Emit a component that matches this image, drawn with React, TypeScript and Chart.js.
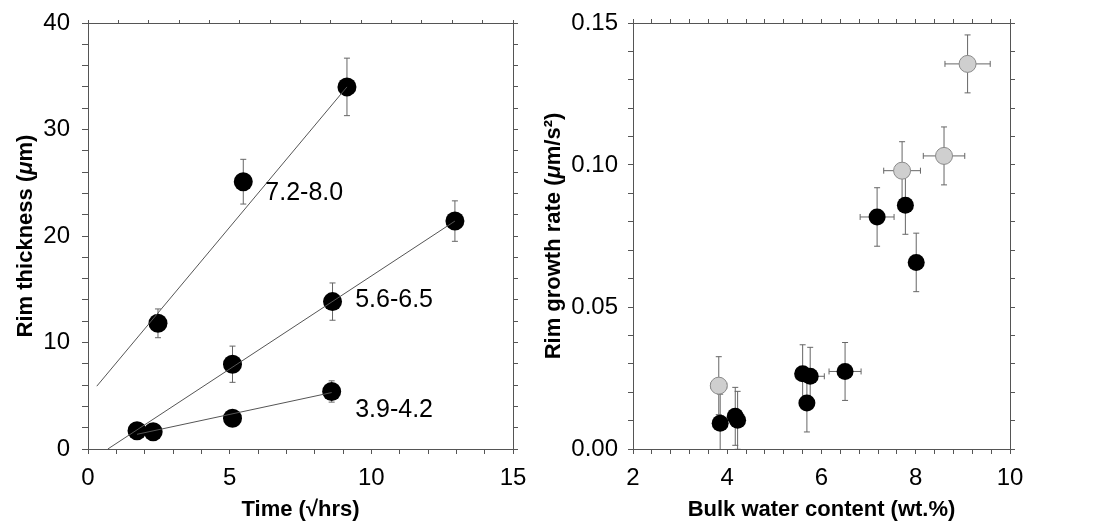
import React, { useEffect, useRef } from 'react';
import { Chart, registerables } from 'chart.js';

Chart.register(...registerables);

const FONT = "'Liberation Sans', Arial, Helvetica, sans-serif";

// ---------- Left panel: rim thickness vs time ----------
const timeA = [2.47, 5.48, 9.14];
const rimA = [11.8, 25.1, 34.0];
const errA = [1.35, 2.1, 2.7];

const timeB = [1.73, 5.1, 8.63, 12.95];
const rimB = [1.72, 7.96, 13.84, 21.4];
const errB = [0, 1.7, 1.75, 1.9];

const timeC = [2.3, 5.1, 8.6];
const rimC = [1.62, 2.88, 5.4];
const errC = [0, 0, 1.0];

const fitAx = [0.31, 9.14];
const fitAy = [5.9, 34.0];
const fitBx = [0.7, 12.95];
const fitBy = [0, 21.4];
const fitCx = [1.73, 8.6];
const fitCy = [1.38, 5.3];

const seriesLabels = ['7.2-8.0', '5.6-6.5', '3.9-4.2'];
const seriesLabelX = [6.26, 9.43, 9.43];
const seriesLabelY = [24.0, 14.0, 3.67];

// ---------- Right panel: rim growth rate vs bulk water ----------
const waterGray = [3.82, 7.71, 8.6, 9.1];
const rateGray = [0.0223, 0.098, 0.1032, 0.1356];
const rateErrGray = [0.0102, 0.0102, 0.0102, 0.0102];
const waterErrGray = [0.17, 0.39, 0.44, 0.48];

const waterBlack = [3.85, 4.17, 4.22, 5.6, 5.76, 5.69, 6.5, 7.18, 7.78, 8.01];
const rateBlack = [0.0091, 0.0115, 0.0101, 0.0265, 0.0256, 0.0162, 0.0273, 0.0817, 0.0858, 0.0657];
const rateErrBlack = [0.0102, 0.0102, 0.0102, 0.0102, 0.0102, 0.0102, 0.0102, 0.0103, 0.0102, 0.0103];
const waterErrBlack = [0, 0, 0, 0, 0.3, 0, 0.34, 0.36, 0, 0];

// axis titles (parts flagged italic where the reference uses italic)
const leftXTitle = [{ text: 'Time (√hrs)', italic: false }];
const leftYTitle = [
  { text: 'Rim thickness (', italic: false },
  { text: 'μ', italic: true },
  { text: 'm)', italic: false },
];
const rightXTitle = [{ text: 'Bulk water content (wt.%)', italic: false }];
const rightYTitle = [
  { text: 'Rim growth rate (', italic: false },
  { text: 'μ', italic: true },
  { text: 'm/s²)', italic: false },
];

const pts = (xs: number[], ys: number[]) => xs.map((x, i) => ({ x, y: ys[i] }));

const errorBars = {
  id: 'errorBars',
  beforeDatasetsDraw(chart: any) {
    const ctx = chart.ctx;
    const a = chart.chartArea;
    ctx.save();
    ctx.beginPath();
    ctx.rect(a.left, a.top, a.right - a.left, a.bottom - a.top);
    ctx.clip();
    ctx.strokeStyle = '#666';
    ctx.lineWidth = 1;
    const cap = 3;
    chart.data.datasets.forEach((ds: any) => {
      const ye = ds.yErr;
      const xe = ds.xErr;
      if (!ye && !xe) return;
      const sx = chart.scales.x;
      const sy = chart.scales.y;
      ds.data.forEach((p: any, j: number) => {
        const px = sx.getPixelForValue(p.x);
        const py = sy.getPixelForValue(p.y);
        ctx.beginPath();
        if (ye && ye[j]) {
          const t = sy.getPixelForValue(p.y + ye[j]);
          const b = sy.getPixelForValue(p.y - ye[j]);
          ctx.moveTo(px, t); ctx.lineTo(px, b);
          ctx.moveTo(px - cap, t); ctx.lineTo(px + cap, t);
          ctx.moveTo(px - cap, b); ctx.lineTo(px + cap, b);
        }
        if (xe && xe[j]) {
          const l = sx.getPixelForValue(p.x - xe[j]);
          const r = sx.getPixelForValue(p.x + xe[j]);
          ctx.moveTo(l, py); ctx.lineTo(r, py);
          ctx.moveTo(l, py - cap); ctx.lineTo(l, py + cap);
          ctx.moveTo(r, py - cap); ctx.lineTo(r, py + cap);
        }
        ctx.stroke();
      });
    });
    ctx.restore();
  },
};

function makeSeriesText(labels: string[]) {
  return {
    id: 'seriesText',
    afterDatasetsDraw(chart: any) {
      const ctx = chart.ctx;
      ctx.save();
      ctx.fillStyle = '#000';
      ctx.font = `25px ${FONT}`;
      ctx.textAlign = 'left';
      ctx.textBaseline = 'middle';
      labels.forEach((t, i) => {
        ctx.fillText(t, chart.scales.x.getPixelForValue(seriesLabelX[i]), chart.scales.y.getPixelForValue(seriesLabelY[i]));
      });
      ctx.restore();
    },
  };
}

type Part = { text: string; italic: boolean };
function makeTitles(xParts: Part[], yParts: Part[], xOffset: number, yOffset: number) {
  const draw = (ctx: any, parts: Part[]) => {
    const fonts = parts.map((p) => `${p.italic ? 'italic ' : ''}bold 22px ${FONT}`);
    const widths = parts.map((p, i) => {
      ctx.font = fonts[i];
      return ctx.measureText(p.text).width;
    });
    let x = -widths.reduce((s, w) => s + w, 0) / 2;
    parts.forEach((p, i) => {
      ctx.font = fonts[i];
      ctx.fillText(p.text, x, 0);
      x += widths[i];
    });
  };
  return {
    id: 'richTitles',
    afterDraw(chart: any) {
      const ctx = chart.ctx;
      const a = chart.chartArea;
      ctx.save();
      ctx.fillStyle = '#000';
      ctx.textAlign = 'left';
      ctx.textBaseline = 'middle';
      ctx.save();
      ctx.translate((a.left + a.right) / 2, chart.scales.x.bottom - xOffset);
      draw(ctx, xParts);
      ctx.restore();
      ctx.save();
      ctx.translate(chart.scales.y.left + yOffset, (a.top + a.bottom) / 2);
      ctx.rotate(-Math.PI / 2);
      draw(ctx, yParts);
      ctx.restore();
      ctx.restore();
    },
  };
}

const AXIS_COLOR = '#555';

function linAxis(opts: {
  position: string; min: number; max: number; step: number;
  label?: (v: number) => string; tickLen: number; size: number; pad?: number;
}) {
  const horizontal = opts.position === 'top' || opts.position === 'bottom';
  return {
    type: 'linear',
    position: opts.position,
    min: opts.min,
    max: opts.max,
    ticks: {
      display: !!opts.label,
      stepSize: opts.step,
      autoSkip: false,
      maxRotation: 0,
      color: '#000',
      padding: opts.pad ?? 6,
      font: { family: FONT, size: 24 },
      callback: opts.label ? (v: any) => opts.label!(Number(v)) : undefined,
    },
    grid: { drawOnChartArea: false, drawTicks: true, tickLength: opts.tickLen, color: AXIS_COLOR, lineWidth: 1 },
    border: { display: true, color: AXIS_COLOR, width: 1 },
    title: { display: false },
    afterFit: (s: any) => {
      if (horizontal) s.height = opts.size; else s.width = opts.size;
      s.paddingTop = 0;
      s.paddingBottom = 0;
      s.paddingLeft = 0;
      s.paddingRight = 0;
    },
  };
}

const isMult = (v: number, m: number) => Math.abs(v / m - Math.round(v / m)) < 1e-6;

function ChartCanvas({ config, width, left }: { config: any; width: number; left: number }) {
  const ref = useRef<HTMLCanvasElement>(null);
  useEffect(() => {
    const chart = new Chart(ref.current!, config);
    return () => chart.destroy();
  }, []);
  return (
    <div style={{ position: 'absolute', left, top: 0, width, height: 525 }}>
      <canvas ref={ref} width={width} height={525} style={{ width, height: 525, display: 'block' }} />
    </div>
  );
}

const LEFT_W = 530;
const RIGHT_W = 563;

const blackPoint = { pointRadius: 9.5, pointBackgroundColor: '#000', pointBorderColor: '#000', pointBorderWidth: 0, showLine: false };
const fitLine = { showLine: true, pointRadius: 0, borderColor: '#555', borderWidth: 1, fill: false };

const baseOptions = {
  responsive: false,
  animation: false,
  devicePixelRatio: 1,
  events: [],
  layout: { padding: 0 },
  plugins: { legend: { display: false }, tooltip: { enabled: false } },
};

const leftConfig = {
  type: 'scatter',
  data: {
    datasets: [
      { data: pts(fitAx, fitAy), ...fitLine },
      { data: pts(fitBx, fitBy), ...fitLine },
      { data: pts(fitCx, fitCy), ...fitLine },
      { data: pts(timeA, rimA), yErr: errA, ...blackPoint },
      { data: pts(timeB, rimB), yErr: errB, ...blackPoint },
      { data: pts(timeC, rimC), yErr: errC, ...blackPoint },
    ],
  },
  options: {
    ...baseOptions,
    scales: {
      x: linAxis({ position: 'bottom', min: 0, max: 15, step: 1, label: (v) => (isMult(v, 5) ? String(Math.round(v)) : ''), tickLen: 5, size: 76, pad: 10 }),
      x2: linAxis({ position: 'top', min: 0, max: 14, step: 1, tickLen: 3, size: 23 }),
      y: linAxis({ position: 'left', min: 0, max: 40, step: 2, label: (v) => (isMult(v, 10) ? String(Math.round(v)) : ''), tickLen: 6, size: 88, pad: 12 }),
      y2: linAxis({ position: 'right', min: 0, max: 40, step: 2, tickLen: 5, size: LEFT_W - 513 }),
    },
  },
  plugins: [errorBars, makeSeriesText(seriesLabels), makeTitles(leftXTitle, leftYTitle, 15, 26)],
};

const rightConfig = {
  type: 'scatter',
  data: {
    datasets: [
      {
        data: pts(waterGray, rateGray), yErr: rateErrGray, xErr: waterErrGray,
        pointRadius: 8.5, pointBackgroundColor: '#cfcfcf', pointBorderColor: '#8a8a8a', pointBorderWidth: 1, showLine: false,
      },
      { data: pts(waterBlack, rateBlack), yErr: rateErrBlack, xErr: waterErrBlack, ...blackPoint, pointRadius: 8.5 },
    ],
  },
  options: {
    ...baseOptions,
    scales: {
      x: linAxis({ position: 'bottom', min: 2, max: 10, step: 0.4, label: (v) => (isMult(v, 2) ? String(Math.round(v)) : ''), tickLen: 5, size: 76, pad: 10 }),
      x2: linAxis({ position: 'top', min: 2, max: 10, step: 0.4, tickLen: 4, size: 23 }),
      y: linAxis({ position: 'left', min: 0, max: 0.15, step: 0.01, label: (v) => (isMult(v, 0.05) ? v.toFixed(2) : ''), tickLen: 5, size: 633 - LEFT_W, pad: 10 }),
      y2: linAxis({ position: 'right', min: 0, max: 0.15, step: 0.01, tickLen: 5, size: RIGHT_W - (1010 - LEFT_W) }),
    },
  },
  plugins: [errorBars, makeTitles(rightXTitle, rightYTitle, 15, 24)],
};

export default function App() {
  return (
    <div style={{ position: 'absolute', left: 0, top: 0, width: 1093, height: 525, background: '#fff' }}>
      <ChartCanvas config={leftConfig} width={LEFT_W} left={0} />
      <ChartCanvas config={rightConfig} width={RIGHT_W} left={LEFT_W} />
    </div>
  );
}
